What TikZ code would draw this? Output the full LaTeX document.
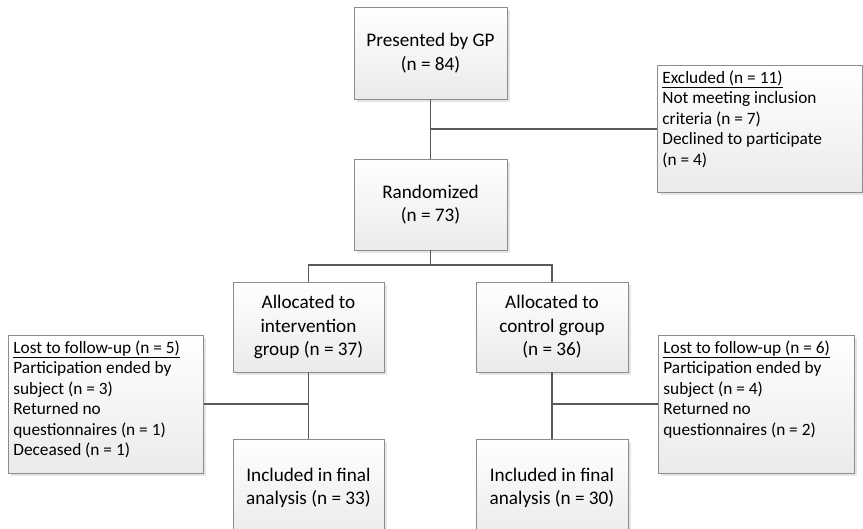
\documentclass[tikz,border=0pt]{standalone}
\usepackage{fontspec}
\setmainfont{Carlito}
\usetikzlibrary{shadows}
\definecolor{boxline}{HTML}{8C8C8C}
\definecolor{linkline}{HTML}{595959}
\tikzset{
 mainbox/.style={draw=boxline, line width=0.8pt, top color=white, bottom color=black!8,
  general shadow={shadow xshift=3pt, shadow yshift=-3pt, fill=black!10},
  align=center, inner sep=0pt, font=\fontsize{19.2}{23.5}\selectfont},
 sidebox/.style={mainbox, align=left, inner sep=5pt, anchor=north west, font=\fontsize{17.3}{20.5}\selectfont},
 link/.style={draw=linkline, line width=1.9pt}
}
\newcommand{\sidetext}[3]{\parbox[c][#1][t]{#2}{#3}}
\begin{document}
\begin{tikzpicture}[x=1pt, y=-1pt]
\path[clip, use as bounding box] (0,0) rectangle (863,529);
\node[mainbox, minimum width=153pt, minimum height=92pt] (pres) at (430.5,53){Presented by GP\\(n = 84)};
\node[mainbox, minimum width=153pt, minimum height=91pt] (rand) at (430.5,204.5){Randomized\\(n = 73)};
\node[sidebox] (excl) at (657,65){\sidetext{117pt}{195pt}{\underline{Excluded (n = 11)}\\Not meeting inclusion\\criteria (n = 7)\\Declined to participate\\(n = 4)}};
\node[mainbox, minimum width=151pt, minimum height=90pt] (alloc1) at (308.5,327){Allocated to\\intervention\\group (n = 37)};
\node[mainbox, minimum width=152pt, minimum height=90pt] (alloc2) at (552,327){Allocated to\\control group\\(n = 36)};
\node[sidebox] (lost1) at (8,335){\sidetext{128pt}{185pt}{\underline{Lost to follow-up (n = 5)}\\Participation ended by\\subject (n = 3)\\Returned no\\questionnaires (n = 1)\\Deceased (n = 1)}};
\node[sidebox] (lost2) at (658,335){\sidetext{128pt}{186pt}{\underline{Lost to follow-up (n = 6)}\\Participation ended by\\subject (n = 4)\\Returned no\\questionnaires (n = 2)}};
\node[mainbox, minimum width=151pt, minimum height=98pt] (incl1) at (308.5,488){Included in final\\analysis (n = 33)};
\node[mainbox, minimum width=152pt, minimum height=98pt] (incl2) at (552,488){Included in final\\analysis (n = 30)};
\coordinate (split) at (430.5,265);
\draw[link] (pres) -- (rand);
\draw[link] (pres.south |- excl.west) -- (excl);
\draw[link] (rand) -- (split);
\draw[link] (alloc1) |- (split) -| (alloc2);
\draw[link] (alloc1) -- (incl1);
\draw[link] (alloc2) -- (incl2);
\draw[link] (lost1) -- (lost1 -| alloc1);
\draw[link] (lost2) -- (lost2 -| alloc2);
\end{tikzpicture}
\end{document}
